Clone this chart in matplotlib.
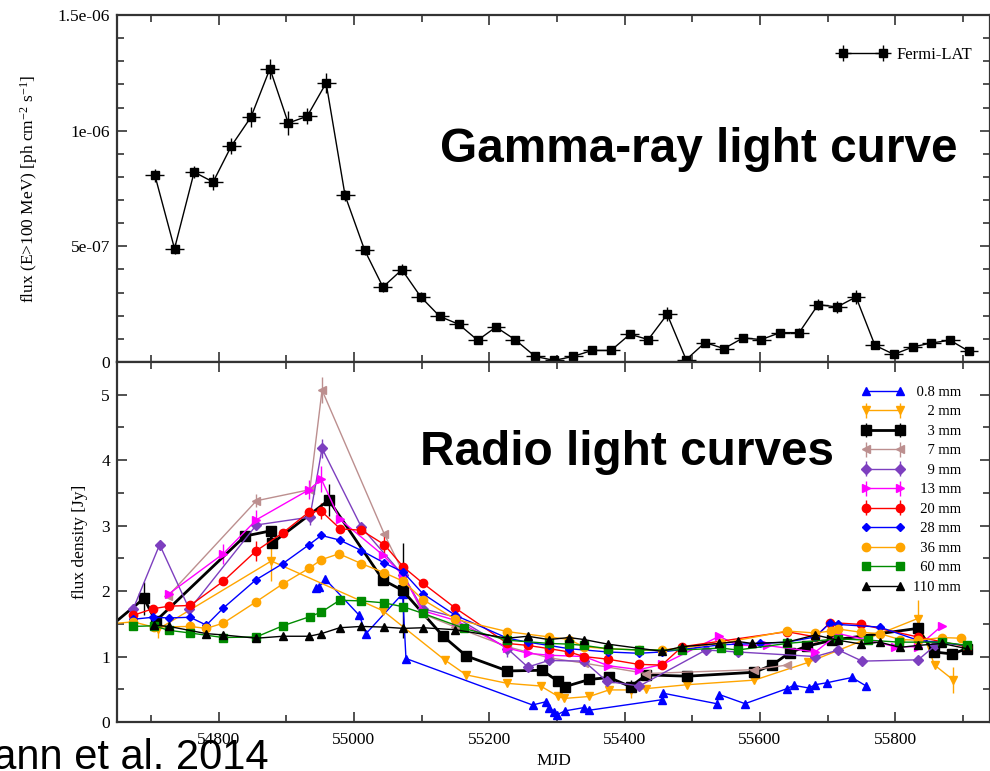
import numpy as np
import matplotlib
matplotlib.use("Agg")
import matplotlib.pyplot as plt
from matplotlib.ticker import MultipleLocator, FixedLocator, FixedFormatter

plt.rcParams["font.family"] = ["Liberation Serif", "DejaVu Serif"]
plt.rcParams["mathtext.fontset"] = "custom"
plt.rcParams["mathtext.rm"] = "Liberation Serif"
plt.rcParams["mathtext.it"] = "Liberation Serif:italic"

# ---- Fermi-LAT, 28 d bins ----
fermi_mjd = [54706, 54735, 54764, 54792, 54819, 54848, 54876, 54903, 54931, 54959,
             54987, 55016, 55043, 55071, 55099, 55127, 55155, 55183, 55210, 55238,
             55268, 55296, 55324, 55352, 55380, 55408, 55435, 55463, 55491, 55519,
             55547, 55575, 55602, 55630, 55658, 55686, 55714, 55742, 55770, 55798,
             55826, 55853, 55881, 55909]
fermi_flux = [8.07e-7, 4.90e-7, 8.21e-7, 7.78e-7, 9.34e-7, 1.059e-6, 1.268e-6, 1.033e-6, 1.062e-6, 1.206e-6,
              7.20e-7, 4.83e-7, 3.24e-7, 3.99e-7, 2.81e-7, 1.97e-7, 1.63e-7, 0.94e-7, 1.51e-7, 0.97e-7,
              0.24e-7, 0.07e-7, 0.24e-7, 0.50e-7, 0.50e-7, 1.20e-7, 0.97e-7, 2.06e-7, 0.10e-7, 0.84e-7,
              0.58e-7, 1.04e-7, 0.97e-7, 1.27e-7, 1.27e-7, 2.48e-7, 2.38e-7, 2.81e-7, 0.72e-7, 0.33e-7,
              0.65e-7, 0.82e-7, 0.94e-7, 0.46e-7]
fermi_err = [2.9e-8, 2.5e-8, 2.5e-8, 3.5e-8, 3.5e-8, 4.5e-8, 4.3e-8, 5.3e-8, 3.5e-8, 4.5e-8,
             2.5e-8, 2.0e-8, 2.0e-8, 2.5e-8, 2.0e-8, 1.5e-8, 1.5e-8, 1.5e-8, 1.5e-8, 1.5e-8,
             1.2e-8, 1.2e-8, 1.2e-8, 1.2e-8, 1.2e-8, 1.5e-8, 1.5e-8, 3.0e-8, 1.2e-8, 1.5e-8,
             1.2e-8, 1.2e-8, 1.2e-8, 1.5e-8, 2.0e-8, 2.5e-8, 2.5e-8, 3.0e-8, 1.5e-8, 1.2e-8,
             1.2e-8, 1.2e-8, 1.2e-8, 1.2e-8]
fermi_halfbin = 14

# ---- radio light curves (MJD, Jy, error) ----
mm08_mjd = [54944, 54949, 54958, 55008, 55018, 55072, 55077, 55264, 55284, 55289, 55296, 55300,
            55312, 55340, 55348, 55455, 55457, 55536, 55540, 55578, 55640, 55650, 55672, 55682,
            55699, 55736, 55757]
mm08_flux = [2.05, 2.07, 2.18, 1.63, 1.35, 1.96, 0.97, 0.26, 0.31, 0.21, 0.16, 0.11,
             0.17, 0.22, 0.18, 0.34, 0.44, 0.28, 0.42, 0.28, 0.51, 0.56, 0.52, 0.57,
             0.60, 0.68, 0.55]

mm2_mjd = [54711, 54878, 55043, 55134, 55166, 55227, 55276, 55302, 55311, 55348, 55377, 55409,
           55432, 55493, 55592, 55671, 55833, 55858, 55886]
mm2_flux = [1.42, 2.46, 1.70, 0.95, 0.72, 0.59, 0.55, 0.39, 0.36, 0.39, 0.49, 0.49,
            0.51, 0.57, 0.64, 0.91, 1.58, 0.87, 0.64]
mm2_err = [0.14, 0.30, 0, 0, 0, 0, 0, 0, 0, 0, 0, 0.12,
           0, 0, 0, 0, 0.28, 0, 0.20]

mm3_mjd = [54640, 54690, 54707, 54839, 54877, 54879, 54963, 55043, 55072, 55132, 55166, 55227,
           55278, 55302, 55312, 55348, 55377, 55409, 55432, 55493, 55592, 55618, 55644, 55670,
           55707, 55833, 55857, 55884, 55906]
mm3_flux = [1.46, 1.89, 1.54, 2.84, 2.92, 2.73, 3.39, 2.17, 2.01, 1.31, 1.01, 0.78,
            0.79, 0.62, 0.54, 0.65, 0.68, 0.54, 0.72, 0.70, 0.76, 0.87, 1.06, 1.16,
            1.25, 1.43, 1.07, 1.04, 1.12]
mm3_err = [0, 0.25, 0, 0, 0, 0, 0.25, 0, 0.72, 0, 0, 0,
           0, 0, 0, 0, 0, 0.10, 0, 0, 0, 0, 0, 0,
           0, 0.18, 0, 0, 0]

mm7_mjd = [54725, 54856, 54935, 54953, 55045, 55072, 55102, 55150, 55227, 55289, 55340, 55432,
           55592, 55640]
mm7_flux = [1.92, 3.38, 3.55, 5.07, 2.87, 2.30, 1.65, 1.45, 1.15, 0.98, 0.90, 0.74,
            0.80, 0.87]
mm7_err = [0, 0.1, 0, 0.2, 0, 0, 0, 0, 0, 0, 0, 0, 0, 0]

mm9_mjd = [54674, 54713, 54757, 54856, 54935, 54953, 55011, 55072, 55102, 55151, 55227, 55257,
           55288, 55340, 55374, 55422, 55520, 55567, 55682, 55716, 55751, 55834, 55859]
mm9_flux = [1.73, 2.71, 1.72, 3.01, 3.13, 4.18, 2.98, 2.25, 1.73, 1.60, 1.12, 0.84,
            0.94, 0.93, 0.62, 0.55, 1.10, 1.07, 1.00, 1.10, 0.93, 0.95, 1.17]
mm9_err = [0, 0, 0, 0, 0.12, 0.15, 0, 0, 0, 0, 0.12, 0,
           0, 0, 0, 0, 0, 0, 0, 0, 0, 0, 0]

mm13_mjd = [54727, 54807, 54856, 54934, 54952, 54979, 55043, 55072, 55102, 55151, 55227, 55257,
            55289, 55340, 55376, 55421, 55456, 55540, 55567, 55610, 55682, 55716, 55760, 55800,
            55833, 55869]
mm13_flux = [1.96, 2.57, 3.09, 3.55, 3.71, 3.10, 2.55, 2.25, 1.70, 1.55, 1.13, 1.05,
             1.02, 1.00, 0.86, 0.80, 0.88, 1.31, 1.17, 1.17, 1.07, 1.35, 1.25, 1.15,
             1.15, 1.47]
mm13_err = [0, 0.15, 0.15, 0.15, 0.20, 0, 0, 0, 0, 0, 0, 0,
            0, 0, 0, 0, 0, 0, 0, 0, 0, 0, 0, 0,
            0, 0]

mm20_mjd = [54674, 54703, 54727, 54758, 54807, 54855, 54895, 54934, 54952, 54980, 55011, 55045,
            55073, 55102, 55150, 55227, 55257, 55289, 55318, 55340, 55375, 55421, 55455, 55485,
            55640, 55682, 55704, 55750, 55833, 55906]
mm20_flux = [1.63, 1.73, 1.77, 1.78, 2.15, 2.61, 2.89, 3.21, 3.22, 2.95, 2.93, 2.71,
             2.37, 2.12, 1.74, 1.20, 1.17, 1.12, 1.07, 1.00, 0.96, 0.88, 0.87, 1.15,
             1.38, 1.30, 1.52, 1.49, 1.30, 1.15]
mm20_err = [0, 0, 0, 0, 0, 0.15, 0, 0, 0.12, 0, 0, 0.15,
            0, 0, 0, 0, 0, 0, 0, 0, 0, 0, 0, 0,
            0, 0, 0, 0, 0, 0]

mm28_mjd = [54674, 54703, 54727, 54758, 54782, 54807, 54855, 54895, 54934, 54952, 54979, 55011,
            55045, 55073, 55102, 55150, 55227, 55257, 55288, 55318, 55375, 55421, 55455, 55542,
            55600, 55640, 55682, 55704, 55716, 55777, 55833, 55906]
mm28_flux = [1.57, 1.60, 1.59, 1.60, 1.48, 1.74, 2.17, 2.42, 2.71, 2.85, 2.78, 2.62,
             2.43, 2.29, 1.96, 1.63, 1.28, 1.22, 1.17, 1.12, 1.07, 1.05, 1.07, 1.18,
             1.20, 1.22, 1.30, 1.52, 1.49, 1.45, 1.25, 1.17]

mm36_mjd = [54640, 54674, 54704, 54758, 54782, 54807, 54856, 54895, 54934, 54952, 54978, 55011,
            55045, 55073, 55102, 55150, 55227, 55288, 55318, 55340, 55375, 55421, 55455, 55542,
            55640, 55682, 55705, 55716, 55750, 55777, 55807, 55834, 55869, 55897]
mm36_flux = [1.50, 1.53, 1.45, 1.46, 1.43, 1.51, 1.84, 2.11, 2.35, 2.48, 2.57, 2.42,
             2.28, 2.15, 1.87, 1.57, 1.38, 1.30, 1.26, 1.15, 1.12, 1.10, 1.10, 1.20,
             1.39, 1.36, 1.39, 1.42, 1.37, 1.35, 1.26, 1.25, 1.29, 1.28]

mm60_mjd = [54674, 54704, 54727, 54758, 54807, 54856, 54895, 54935, 54952, 54979, 55011, 55045,
            55073, 55102, 55163, 55227, 55289, 55318, 55340, 55375, 55421, 55485, 55542, 55567,
            55640, 55716, 55760, 55806, 55869, 55906]
mm60_flux = [1.46, 1.47, 1.40, 1.36, 1.29, 1.30, 1.47, 1.61, 1.68, 1.86, 1.85, 1.82,
             1.76, 1.66, 1.43, 1.25, 1.20, 1.19, 1.17, 1.12, 1.10, 1.10, 1.13, 1.10,
             1.20, 1.27, 1.25, 1.22, 1.22, 1.17]

mm110_mjd = [54704, 54727, 54782, 54807, 54856, 54895, 54934, 54952, 54979, 55011, 55045, 55073,
             55102, 55150, 55227, 55257, 55288, 55318, 55340, 55375, 55455, 55485, 55540, 55567,
             55589, 55640, 55682, 55715, 55750, 55777, 55807, 55834, 55869, 55906]
mm110_flux = [1.48, 1.46, 1.35, 1.33, 1.28, 1.31, 1.31, 1.35, 1.44, 1.46, 1.45, 1.43,
              1.44, 1.41, 1.28, 1.31, 1.26, 1.29, 1.26, 1.19, 1.08, 1.15, 1.20, 1.23,
              1.20, 1.22, 1.33, 1.25, 1.19, 1.22, 1.14, 1.17, 1.20, 1.12]

radio = [
    # label, mjd, flux, err, colour, marker, size, line width
    (" 0.8 mm", mm08_mjd, mm08_flux, None, "#0000ff", "^", 6.0, 1.0),
    ("    2 mm", mm2_mjd, mm2_flux, mm2_err, "#ffa500", "v", 6.0, 1.0),
    ("    3 mm", mm3_mjd, mm3_flux, mm3_err, "black", "s", 6.5, 2.0),
    ("    7 mm", mm7_mjd, mm7_flux, mm7_err, "#bc8f8f", "<", 6.0, 1.0),
    ("    9 mm", mm9_mjd, mm9_flux, mm9_err, "#7d3fbf", "D", 5.0, 1.0),
    ("  13 mm", mm13_mjd, mm13_flux, mm13_err, "#ff00ff", ">", 6.0, 1.0),
    ("  20 mm", mm20_mjd, mm20_flux, mm20_err, "#ff0000", "o", 6.0, 1.0),
    ("  28 mm", mm28_mjd, mm28_flux, None, "#0000ff", "D", 4.5, 1.0),
    ("  36 mm", mm36_mjd, mm36_flux, None, "#ffa500", "o", 6.0, 1.0),
    ("  60 mm", mm60_mjd, mm60_flux, None, "#008b00", "s", 5.5, 1.0),
    ("110 mm", mm110_mjd, mm110_flux, None, "black", "^", 6.0, 1.0),
]

XMIN, XMAX = 54650, 55940
SPINE = "#333333"

fig = plt.figure(figsize=(9.9, 7.71), dpi=100)
L, R = 117 / 990, 1.0
y_mid = 1 - 362 / 771
ax1 = fig.add_axes([L, y_mid, R - L, (1 - 15 / 771) - y_mid])
ax2 = fig.add_axes([L, 1 - 722 / 771, R - L, y_mid - (1 - 722 / 771)])


def grace_axes(ax):
    for s in ax.spines.values():
        s.set_linewidth(1.6)
        s.set_color(SPINE)
    ax.tick_params(which="both", direction="in", top=True, right=True,
                   color=SPINE, width=1.2, labelsize=12.5, pad=5)
    ax.tick_params(which="major", length=7)
    ax.tick_params(which="minor", length=5)
    ax.set_xlim(XMIN, XMAX)
    ax.xaxis.set_major_locator(MultipleLocator(200))
    ax.xaxis.set_minor_locator(MultipleLocator(100))


# gamma-ray panel
grace_axes(ax1)
ax1.errorbar(fermi_mjd, fermi_flux, xerr=fermi_halfbin, yerr=fermi_err, fmt="-s",
             color="black", ms=6, lw=1.0, elinewidth=1.0, capsize=0, label="Fermi-LAT")
ax1.set_ylim(0, 1.5e-6)
ax1.yaxis.set_major_locator(FixedLocator([0, 5e-7, 1e-6, 1.5e-6]))
ax1.yaxis.set_major_formatter(FixedFormatter(["0", "5e-07", "1e-06", "1.5e-06"]))
ax1.yaxis.set_minor_locator(MultipleLocator(1e-7))
ax1.tick_params(axis="x", labelbottom=False)
ax1.set_ylabel(r"flux (E>100 MeV) [ph cm$^{-2}$ s$^{-1}$]", fontsize=12.5)
ax1.yaxis.set_label_coords(-0.088, 0.5)
leg1 = ax1.legend(loc="center left", bbox_to_anchor=(0.826, 0.885), frameon=False,
                  fontsize=12, borderpad=0, borderaxespad=0, handlelength=3.0,
                  handletextpad=0.5, numpoints=2)

# radio panel
grace_axes(ax2)
for label, mjd, flux, err, col, mk, ms, lw in radio:
    ax2.errorbar(mjd, flux, yerr=err, fmt="-" + mk, color=col, ms=ms, lw=lw,
                 elinewidth=1.0, capsize=0, label=label, clip_on=True)
ax2.set_ylim(0, 5.5)
ax2.yaxis.set_major_locator(MultipleLocator(1))
ax2.yaxis.set_minor_locator(MultipleLocator(0.5))
ax2.set_ylabel("flux density [Jy]", fontsize=12.5)
ax2.yaxis.set_label_coords(-0.033, 0.5)
ax2.set_xlabel("MJD", fontsize=12.5, labelpad=4)
ax2.tick_params(axis="x", pad=7)
leg2 = ax2.legend(loc="upper left", bbox_to_anchor=(0.853, 0.934), frameon=False,
                  fontsize=10.5, borderpad=0, borderaxespad=0, handlelength=2.9,
                  handletextpad=0.6, labelspacing=0.43, numpoints=2)

# slide annotations
fig.text(440 / 990, 1 - 162 / 771, "Gamma-ray light curve", family="Liberation Sans",
         weight="bold", fontsize=34.4, va="baseline")
fig.text(420 / 990, 1 - 465 / 771, "Radio light curves", family="Liberation Sans",
         weight="bold", fontsize=34.4, va="baseline")
fig.text(269 / 990, 2 / 771, "Fuhrmann et al. 2014", family="Liberation Sans",
         fontsize=30, ha="right", va="baseline")

fig.savefig("out.png", dpi=100)
